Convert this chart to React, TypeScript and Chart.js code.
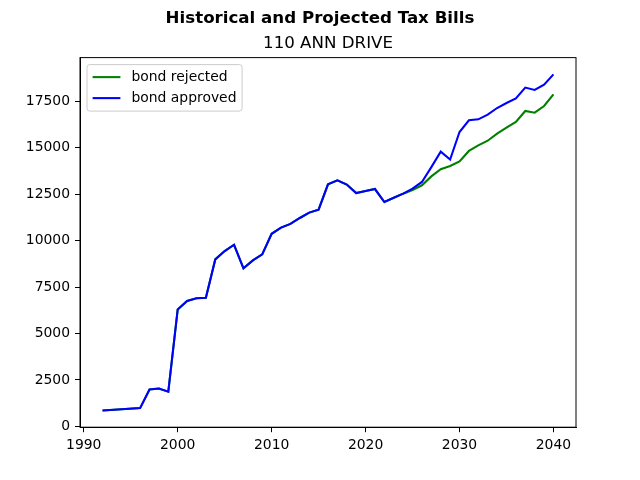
import React, { useEffect, useRef } from 'react';
import Chart from 'chart.js/auto';

const FONT = "'DejaVu Sans', sans-serif";

const years = [
  1992, 1996, 1997, 1998, 1999, 2000, 2001, 2002, 2003, 2004, 2005, 2006, 2007, 2008, 2009,
  2010, 2011, 2012, 2013, 2014, 2015, 2016, 2017, 2018, 2019, 2020, 2021, 2022, 2023, 2024,
  2025, 2026, 2027, 2028, 2029, 2030, 2031, 2032, 2033, 2034, 2035, 2036, 2037, 2038, 2039, 2040,
];

const bondRejected = [
  860, 985, 1990, 2040, 1870, 6300, 6750, 6900, 6930, 8990, 9440, 9780, 8510, 8940, 9260,
  10370, 10700, 10900, 11220, 11510, 11670, 13030, 13250, 13020, 12560, 12670, 12780, 12080, 12310, 12530,
  12730, 12980, 13460, 13850, 14020, 14270, 14830, 15130, 15380, 15760, 16080, 16390, 16980, 16890, 17250, 17880,
];

const bondApproved = [
  860, 985, 1990, 2040, 1870, 6300, 6750, 6900, 6930, 8990, 9440, 9780, 8510, 8940, 9260,
  10370, 10700, 10900, 11220, 11510, 11670, 13030, 13250, 13020, 12560, 12670, 12780, 12080, 12310, 12530,
  12800, 13160, 13960, 14790, 14370, 15850, 16480, 16530, 16780, 17140, 17410, 17660, 18240, 18110, 18400, 18950,
];

const xTicks = [1990, 2000, 2010, 2020, 2030, 2040];
const yTicks = [0, 2500, 5000, 7500, 10000, 12500, 15000, 17500];

const seriesLabels = ['bond rejected', 'bond approved'];
const seriesColors = ['green', 'blue'];

// frame + legend drawn matplotlib style
const framePlugin = {
  id: 'frame',
  afterDraw(chart: any) {
    const { ctx, chartArea } = chart;
    const { left, top, right, bottom } = chartArea;
    ctx.save();
    ctx.strokeStyle = '#000';
    ctx.lineWidth = 1;
    ctx.strokeRect(left, top, right - left, bottom - top);

    const fs = 13.9;
    const bx = left + 7;
    const by = top + 7;
    ctx.font = `${fs}px ${FONT}`;
    const textW = Math.max(...seriesLabels.map((l) => ctx.measureText(l).width));
    const bw = 5.6 + 27.8 + 11.1 + textW + 5.6;
    const bh = 46.5;
    const r = 2.8;
    ctx.beginPath();
    ctx.moveTo(bx + r, by);
    ctx.arcTo(bx + bw, by, bx + bw, by + bh, r);
    ctx.arcTo(bx + bw, by + bh, bx, by + bh, r);
    ctx.arcTo(bx, by + bh, bx, by, r);
    ctx.arcTo(bx, by, bx + bw, by, r);
    ctx.closePath();
    ctx.fillStyle = 'rgba(255,255,255,0.8)';
    ctx.fill();
    ctx.strokeStyle = '#cccccc';
    ctx.stroke();

    seriesLabels.forEach((label, i) => {
      const cy = by + 12.5 + i * 21;
      ctx.beginPath();
      ctx.strokeStyle = seriesColors[i];
      ctx.lineWidth = 2.08;
      ctx.moveTo(bx + 5.6, cy);
      ctx.lineTo(bx + 5.6 + 27.8, cy);
      ctx.stroke();
      ctx.fillStyle = '#000';
      ctx.textBaseline = 'middle';
      ctx.textAlign = 'left';
      ctx.fillText(label, bx + 5.6 + 27.8 + 11.1, cy);
    });
    ctx.restore();
  },
};

const TaxChart: React.FC = () => {
  const canvasRef = useRef<HTMLCanvasElement | null>(null);
  const chartRef = useRef<Chart | null>(null);

  useEffect(() => {
    const canvas = canvasRef.current;
    if (!canvas) return;
    if (chartRef.current) chartRef.current.destroy();

    chartRef.current = new Chart(canvas, {
      type: 'line',
      data: {
        datasets: [
          {
            label: seriesLabels[0],
            data: years.map((x, i) => ({ x, y: bondRejected[i] })),
            borderColor: seriesColors[0],
            borderWidth: 2.08,
            pointRadius: 0,
            fill: false,
            tension: 0,
            order: 1,
          },
          {
            label: seriesLabels[1],
            data: years.map((x, i) => ({ x, y: bondApproved[i] })),
            borderColor: seriesColors[1],
            borderWidth: 2.08,
            pointRadius: 0,
            fill: false,
            tension: 0,
            order: 0,
          },
        ],
      },
      options: {
        animation: false,
        responsive: false,
        devicePixelRatio: 1,
        layout: { padding: 0 },
        plugins: {
          legend: { display: false },
          tooltip: { enabled: false },
          title: {
            display: true,
            text: 'Historical and Projected Tax Bills',
            color: '#000',
            font: { family: FONT, size: 16.67, weight: 'bold', lineHeight: 1.2 },
            padding: { top: 9, bottom: 0 },
          },
          subtitle: {
            display: true,
            fullSize: false,
            text: '110 ANN DRIVE',
            color: '#000',
            font: { family: FONT, size: 16.67, lineHeight: 1.2 },
            padding: { top: 5, bottom: 3.6 },
          },
        },
        scales: {
          x: {
            type: 'linear',
            min: 1989.6,
            max: 2042.4,
            afterFit: (s: any) => { s.height = 52.8; },
            afterBuildTicks: (s: any) => {
              s.ticks = xTicks.map((v) => ({ value: v }));
            },
            grid: { drawOnChartArea: false, drawTicks: true, tickLength: 5, tickColor: '#000' },
            border: { display: true, color: '#000' },
            ticks: {
              color: '#000',
              padding: 5,
              maxRotation: 0,
              font: { family: FONT, size: 13.9 },
              callback: (v: any) => String(v),
            },
          },
          y: {
            type: 'linear',
            min: -42,
            max: 19854,
            afterFit: (s: any) => { s.width = 80; },
            afterBuildTicks: (s: any) => {
              s.ticks = yTicks.map((v) => ({ value: v }));
            },
            grid: { drawOnChartArea: false, drawTicks: true, tickLength: 5, tickColor: '#000' },
            border: { display: true, color: '#000' },
            ticks: {
              color: '#000',
              padding: 5,
              font: { family: FONT, size: 13.9 },
              callback: (v: any) => String(v),
            },
          },
          // empty right margin, like matplotlib's subplot right edge
          yRight: {
            type: 'linear',
            position: 'right',
            afterFit: (s: any) => { s.width = 64; },
            grid: { display: false },
            border: { display: false },
            ticks: { display: false },
          },
        },
      },
      plugins: [framePlugin],
    } as any);

    return () => {
      if (chartRef.current) {
        chartRef.current.destroy();
        chartRef.current = null;
      }
    };
  }, []);

  return (
    <div style={{ position: 'absolute', left: 0, top: 0, width: 640, height: 480, background: '#fff' }}>
      <canvas ref={canvasRef} width={640} height={480}></canvas>
    </div>
  );
};

export default function App() {
  return <TaxChart />;
}
